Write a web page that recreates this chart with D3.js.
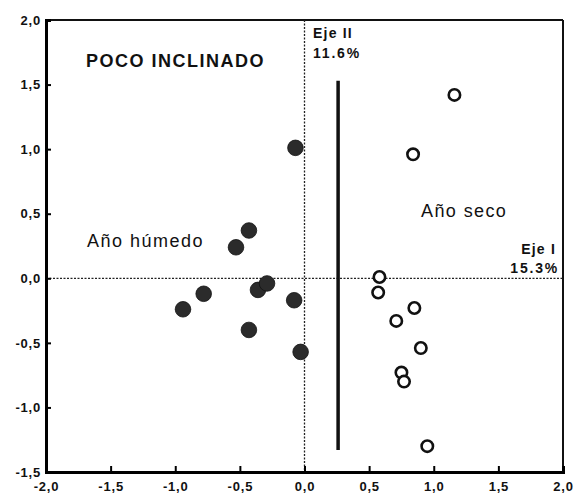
<!DOCTYPE html>
<html>
<head>
<meta charset="utf-8">
<script src="https://cdn.jsdelivr.net/npm/d3@7"></script>
<style>
  html, body { margin: 0; padding: 0; background: #fff; }
  svg { display: block; font-family: Arial, "Liberation Sans", sans-serif; }
</style>
</head>
<body>
<svg id="chart" width="574" height="495"></svg>
<script>
// Ordination scores: wet-year samples (filled) and dry-year samples (open)
const wetX = [-0.07, -0.43, -0.53, -0.94, -0.78, -0.36, -0.29, -0.08, -0.43, -0.03];
const wetY = [ 1.01,  0.37,  0.24, -0.24, -0.12, -0.09, -0.04, -0.17, -0.40, -0.57];
const dryX = [1.16, 0.84, 0.58, 0.57, 0.85, 0.71, 0.90, 0.75, 0.77, 0.95];
const dryY = [1.42, 0.96, 0.01, -0.11, -0.23, -0.33, -0.54, -0.73, -0.80, -1.30];

// Separating line between the two groups
const splitX = 0.26;
const splitY = [-1.33, 1.53];

const xTicks = [-2.0, -1.5, -1.0, -0.5, 0.0, 0.5, 1.0, 1.5, 2.0];
const yTicks = [-1.5, -1.0, -0.5, 0.0, 0.5, 1.0, 1.5, 2.0];
const xTickLabels = ["-2,0", "-1,5", "-1,0", "-0,5", "0,0", "0,5", "1,0", "1,5", "2,0"];
const yTickLabels = ["-1,5", "-1,0", "-0,5", "0,0", "0,5", "1,0", "1,5", "2,0"];

const svg = d3.select("#chart");
const x = d3.scaleLinear().domain([-2, 2]).range([46, 563]);
const y = d3.scaleLinear().domain([-1.5, 2]).range([472, 20]);

// Frame: thinner top and right edges
svg.append("line").attr("x1", x(-2)).attr("x2", x(2)).attr("y1", y(2)).attr("y2", y(2))
  .attr("stroke", "#111").attr("stroke-width", 2);
svg.append("line").attr("x1", x(2)).attr("x2", x(2)).attr("y1", y(2)).attr("y2", y(-1.5))
  .attr("stroke", "#111").attr("stroke-width", 2);

// Dotted zero lines
svg.append("line").attr("x1", x(-2)).attr("x2", x(2)).attr("y1", y(0)).attr("y2", y(0))
  .attr("stroke", "#222").attr("stroke-width", 1.3).attr("stroke-dasharray", "2,1.5");
svg.append("line").attr("x1", x(0)).attr("x2", x(0)).attr("y1", y(2)).attr("y2", y(-1.5))
  .attr("stroke", "#222").attr("stroke-width", 1.3).attr("stroke-dasharray", "2,1.5");

// Axes with inward ticks
const xAxis = d3.axisBottom(x).tickValues(xTicks).tickSize(-6).tickPadding(10)
  .tickFormat((d, i) => xTickLabels[i]);
const yAxis = d3.axisLeft(y).tickValues(yTicks).tickSize(-5).tickPadding(5)
  .tickFormat((d, i) => yTickLabels[i]);

const gx = svg.append("g").attr("transform", `translate(0,${y(-1.5)})`).call(xAxis);
const gy = svg.append("g").attr("transform", `translate(${x(-2)},0)`).call(yAxis);
[gx, gy].forEach(g => {
  g.select(".domain").attr("stroke", "#000").attr("stroke-width", 3);
  g.selectAll(".tick line").attr("stroke", "#000").attr("stroke-width", 2);
  g.selectAll(".tick text").attr("fill", "#111").attr("font-size", 13)
    .attr("font-weight", "bold").attr("letter-spacing", 0.8)
    .attr("font-family", "Arial, 'Liberation Sans', sans-serif");
});
gx.selectAll(".tick").filter(d => d === 2 || d === -2).select("line").remove();
gy.selectAll(".tick").filter(d => d === 2 || d === -1.5).select("line").remove();

// Group separator
svg.append("line").attr("x1", x(splitX)).attr("x2", x(splitX))
  .attr("y1", y(splitY[0])).attr("y2", y(splitY[1]))
  .attr("stroke", "#111").attr("stroke-width", 3.5);

// Points
const wet = wetX.map((v, i) => ({ x: v, y: wetY[i] }));
const dry = dryX.map((v, i) => ({ x: v, y: dryY[i] }));

svg.append("g").selectAll("circle").data(wet).join("circle")
  .attr("cx", d => x(d.x)).attr("cy", d => y(d.y)).attr("r", 7.8)
  .attr("fill", "#2b2b2b").attr("stroke", "#111").attr("stroke-width", 0.8);

svg.append("g").selectAll("circle").data(dry).join("circle")
  .attr("cx", d => x(d.x)).attr("cy", d => y(d.y)).attr("r", 5.7)
  .attr("fill", "#fff").attr("stroke", "#111").attr("stroke-width", 2.6);

// Labels
const txt = (s, tx, ty, size, weight, spacing, anchor) =>
  svg.append("text").attr("x", tx).attr("y", ty).attr("font-size", size)
    .attr("font-weight", weight).attr("letter-spacing", spacing)
    .attr("text-anchor", anchor || "start")
    .attr("fill", "#111").text(s);

txt("POCO INCLINADO", 86, 67, 18, "bold", 1.5);
txt("Año húmedo", 87, 247, 18, "normal", 1.5);
txt("Año seco", 421, 217, 18, "normal", 1.4);
txt("Eje II", 313, 38, 14, "bold", 1.2);
txt("11.6%", 313, 58, 14, "bold", 1.8);
txt("Eje I", 556, 254, 14, "bold", 1.2, "end");
txt("15.3%", 559, 273, 14, "bold", 1.8, "end");
</script>
</body>
</html>
